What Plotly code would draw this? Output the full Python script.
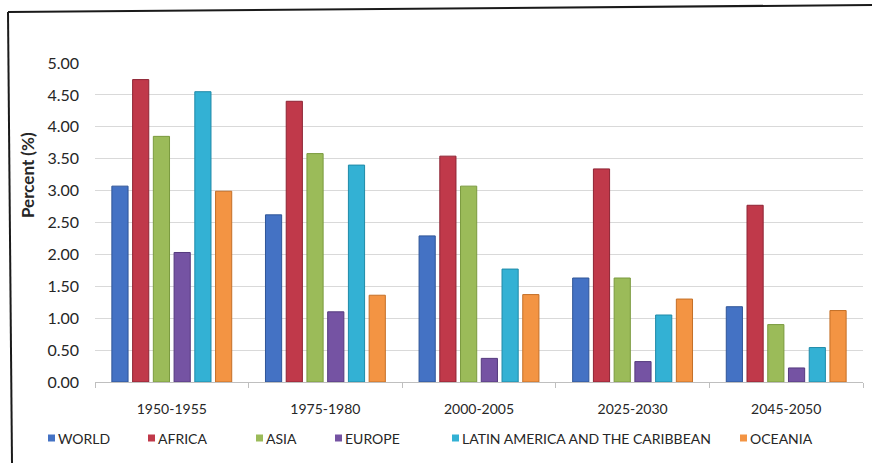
import plotly.graph_objects as go

# Average annual rate of population change by region (percent)
periods = ["1950-1955", "1975-1980", "2000-2005", "2025-2030", "2045-2050"]
regions = ["WORLD", "AFRICA", "ASIA", "EUROPE",
           "LATIN AMERICA AND THE CARIBBEAN", "OCEANIA"]

world = [3.07, 2.62, 2.29, 1.63, 1.18]
africa = [4.74, 4.40, 3.54, 3.34, 2.77]
asia = [3.85, 3.58, 3.07, 1.63, 0.90]
europe = [2.03, 1.10, 0.37, 0.32, 0.22]
latin_america = [4.55, 3.40, 1.77, 1.05, 0.54]
oceania = [2.99, 1.36, 1.37, 1.30, 1.12]

y_ticks = [0, 0.5, 1, 1.5, 2, 2.5, 3, 3.5, 4, 4.5, 5]

series = [world, africa, asia, europe, latin_america, oceania]
fills = ["#4472c4", "#c0394a", "#9bbb59", "#7553a3", "#33b1d4", "#f39443"]
edges = ["#2f5597", "#8e2434", "#7a9a3e", "#553a7e", "#1f8aa8", "#c46f27"]

W, H = 872, 463
ML, MR, MT, MB = 95, 9, 63, 81
PW, PH = W - ML - MR, H - MT - MB


def px_x(x):
    return (x - ML) / PW


def px_y(y):
    return (H - MB - y) / PH


FONT = "Lato"
TEXT = "#262626"

fig = go.Figure()
for name, vals, fc, ec in zip(regions, series, fills, edges):
    fig.add_trace(go.Bar(
        x=periods, y=vals, name=name, showlegend=False,
        marker=dict(color=fc, line=dict(color=ec, width=1)),
    ))

fig.update_layout(
    width=W, height=H,
    margin=dict(l=ML, r=MR, t=MT, b=MB, pad=0),
    paper_bgcolor="white", plot_bgcolor="white",
    barmode="group", bargap=0.19, bargroupgap=0.22,
    font=dict(family=FONT, color=TEXT),
    showlegend=False,
)

fig.update_yaxes(
    range=[0, 5], tickvals=y_ticks, tickformat=".2f",
    showgrid=True, gridcolor="#d9d9d9", gridwidth=1,
    zeroline=False, showline=False, ticks="",
    ticklabelstandoff=15,
    tickfont=dict(size=16, family=FONT, color=TEXT),
)
fig.update_xaxes(
    showline=True, linecolor="#bfbfbf", linewidth=1,
    ticks="outside", tickson="boundaries", ticklen=5, tickcolor="#bfbfbf",
    ticklabelstandoff=14,
    tickfont=dict(size=14, family=FONT, color=TEXT),
)

fig.add_annotation(
    text="<b>Percent (%)</b>", textangle=-90,
    xref="paper", yref="paper", x=px_x(27), y=px_y(175),
    xanchor="center", yanchor="middle", showarrow=False,
    font=dict(size=17, family=FONT, color=TEXT),
)

# Legend row below the category labels: a small swatch, then the region name
legend_x = [48, 148, 256, 335, 452, 740]
legend_y = 438
for name, fc, lx in zip(regions, fills, legend_x):
    fig.add_shape(type="rect", xref="paper", yref="paper",
                  x0=px_x(lx), x1=px_x(lx + 7),
                  y0=px_y(legend_y - 3.5), y1=px_y(legend_y + 3.5),
                  fillcolor=fc, line=dict(width=0))
    fig.add_annotation(
        text=name, xref="paper", yref="paper",
        x=px_x(lx + 8), y=px_y(legend_y),
        xanchor="left", yanchor="middle", showarrow=False,
        font=dict(size=14, family=FONT, color=TEXT),
    )

# Frame edges along the top and left of the chart
fig.add_shape(type="line", xref="paper", yref="paper",
              x0=px_x(8), y0=px_y(12), x1=px_x(872), y1=px_y(5),
              line=dict(color="#1a1a1a", width=2))
fig.add_shape(type="line", xref="paper", yref="paper",
              x0=px_x(8), y0=px_y(12), x1=px_x(12), y1=px_y(463),
              line=dict(color="#1a1a1a", width=2))

fig.write_html("out.html")
